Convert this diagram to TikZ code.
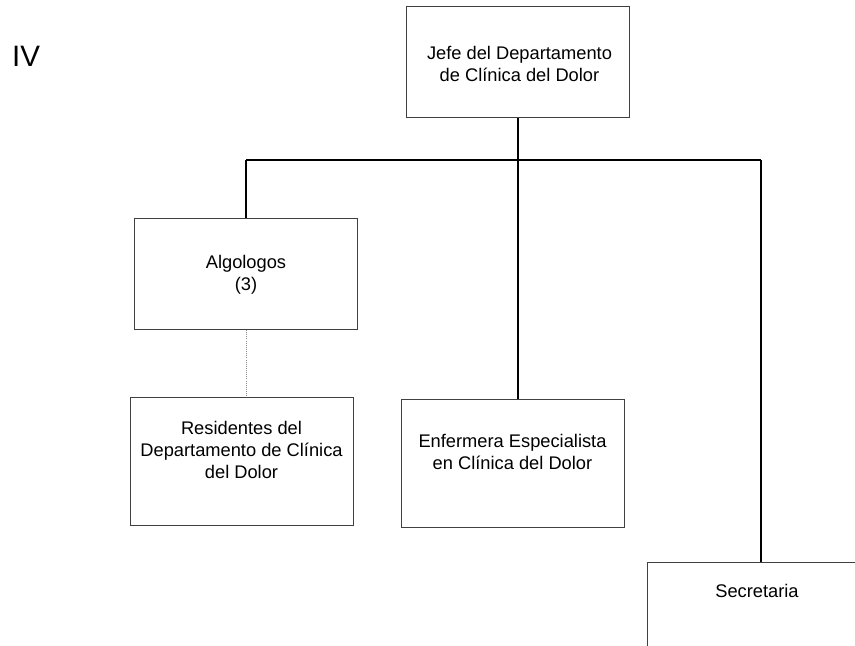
\documentclass[tikz,border=0pt]{standalone}
\usepackage{fontspec}
\setmainfont{Liberation Sans}
\usetikzlibrary{positioning}

\begin{document}
\begin{tikzpicture}[
    x=0.025cm, y=-0.025cm,
    % Box style for the org chart units
    unit box/.style={draw=black!75, line width=0.5pt, minimum width=5.57cm, minimum height=2.78cm},
    % Text inside the boxes
    unit text/.style={align=center, font=\fontsize{13}{15.8}\selectfont, inner sep=0pt},
    % Solid connectors
    link/.style={draw=black, line width=1pt},
    % Faint connector between Algologos and Residentes
    faint link/.style={draw=black!45, line width=0.5pt, densely dotted}
  ]

  % --- Frame ---
  \clip (0,0) rectangle (855,645);

  % --- Node Definitions ---
  \node[font=\fontsize{21}{24}\selectfont] (level) at (26,56) {IV};

  \node[unit box] (jefe) at (518,62) {};
  \node[unit text] (jefe text) at (519.5,64) {Jefe del Departamento\\de Clínica del Dolor};

  \node[unit box] (algo) at (246,274) {};
  \node[unit text] (algo text) at (246,275) {Algologos\\(3)};

  \node[unit box, minimum height=3.2cm] (resid) at (241.5,461) {};
  \node[unit text] (resid text) at (241.5,450) {Residentes del\\Departamento de Clínica\\del Dolor};

  \node[unit box, minimum height=3.2cm] (enf) at (512.5,463) {};
  \node[unit text] (enf text) at (512.5,452) {Enfermera Especialista\\en Clínica del Dolor};

  \node[unit box, anchor=north, minimum height=3.2cm] (secr) at (759,562) {};
  \node[unit text] (secr text) at (757,591) {Secretaria};

  \coordinate (bus left)  at (246,160);
  \coordinate (bus right) at (761,160);

  % --- Edge Definitions ---
  \draw[link] (bus left) -- (bus right);
  \draw[link] (jefe.south) -- (jefe.south |- enf.north);
  \draw[link] (bus left) -- (algo.north);
  \draw[link] (bus right) -- (bus right |- secr.north);
  \draw[faint link] (algo.south) -- (algo.south |- resid.north);

\end{tikzpicture}
\end{document}
